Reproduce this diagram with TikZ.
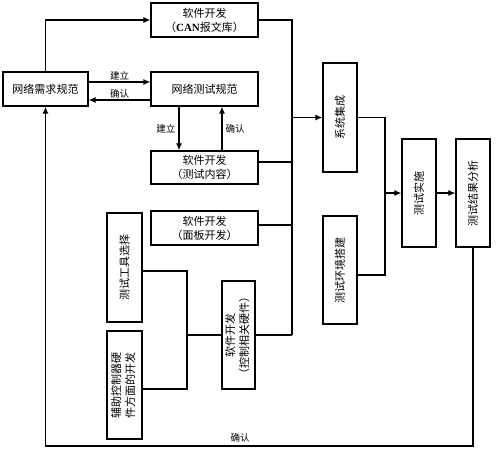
\documentclass[tikz,border=0pt]{standalone}
\usepackage{fontspec}
\setmainfont{Noto Sans CJK SC}
\newfontfamily\latinserif{Liberation Serif}
\usetikzlibrary{arrows.meta,calc}
\begin{document}
\begin{tikzpicture}[x=1pt,y=-1pt,
  box/.style={draw,line width=1.3pt,inner sep=0pt,align=center,font=\fontsize{11}{14}\selectfont},
  hbox/.style={box,minimum width=107pt,minimum height=34pt},
  vbox/.style={box,minimum width=34pt,minimum height=108pt},
  conn/.style={line width=1.2pt},
  arr/.style={conn,-{Latex[length=7pt,width=6pt]}},
  lbl/.style={font=\fontsize{9.5}{11}\selectfont,inner sep=1pt}]
\useasboundingbox (0,0) rectangle (497,460);
% boxes
\node[box,minimum width=85pt,minimum height=34pt] (req) at (45.5,89) {网络需求规范};
\node[hbox] (can) at (204.5,20) {软件开发\\（{\latinserif\bfseries CAN}报文库）};
\node[hbox] (spec) at (204.5,89) {网络测试规范};
\node[hbox,minimum height=33pt] (cont) at (204.5,167.5) {软件开发\\（测试内容）};
\node[hbox] (panel) at (204.5,228) {软件开发\\（面板开发）};
\node[vbox,minimum width=35pt,minimum height=109pt] (tool) at (124.5,267.5) {\rotatebox{90}{测试工具选择}};
\node[vbox,minimum width=35pt] (aux) at (124.5,385) {\rotatebox{90}{\begin{tabular}{@{}c@{}}辅助控制器硬\\件方面的开发\end{tabular}}};
\node[vbox,minimum width=33pt] (hw) at (238.5,335) {\rotatebox{90}{\begin{tabular}{@{}c@{}}软件开发\\（控制相关硬件）\end{tabular}}};
\node[vbox,minimum height=109pt] (sys) at (340,117.5) {\rotatebox{90}{系统集成}};
\node[vbox] (env) at (340,270) {\rotatebox{90}{测试环境搭建}};
\node[vbox] (impl) at (419,193) {\rotatebox{90}{测试实施}};
\node[vbox] (res) at (473,193) {\rotatebox{90}{测试结果分析}};
% junction coordinates
\coordinate (busb) at (292,335);
\coordinate (busj) at (292,117.5);
\coordinate (j2) at (385,193);
\coordinate (j3) at (187,335);
\coordinate (bl) at (45.5,446);
% connectors
\draw[arr] (req.north) |- (can.west);
\draw[arr] (req.east |- 0,82) -- node[lbl,above] {建立} (spec.west |- 0,82);
\draw[arr] (spec.west |- 0,100) -- node[lbl,above] {确认} (req.east |- 0,100);
\draw[arr] (spec.south -| 179,0) -- node[lbl,left=2pt] {建立} (cont.north -| 179,0);
\draw[arr] (cont.north -| 222,0) -- node[lbl,right=2pt] {确认} (spec.south -| 222,0);
\draw[conn] (can.east) -| (busb);
\draw[conn] (cont.east |- 0,162) -- (292,162);
\draw[conn] (panel.east |- 0,225) -- (292,225);
\draw[conn] (hw.east) -- (busb);
\draw[arr] (busj) -- (sys.west);
\draw[arr] (sys.east) -| (j2) -- (impl.west);
\draw[conn] (env.east |- 0,275) -| (j2);
\draw[arr] (impl.east) -- (res.west);
\draw[arr] (res.south) |- (bl) -- (req.south);
\node[lbl] (ok) at (240,438) {确认};
\draw[conn] (tool.east |- 0,271) -| (j3);
\draw[conn] (aux.east |- 0,389) -| (j3);
\draw[conn] (j3) -- (hw.west);
\end{tikzpicture}
\end{document}
